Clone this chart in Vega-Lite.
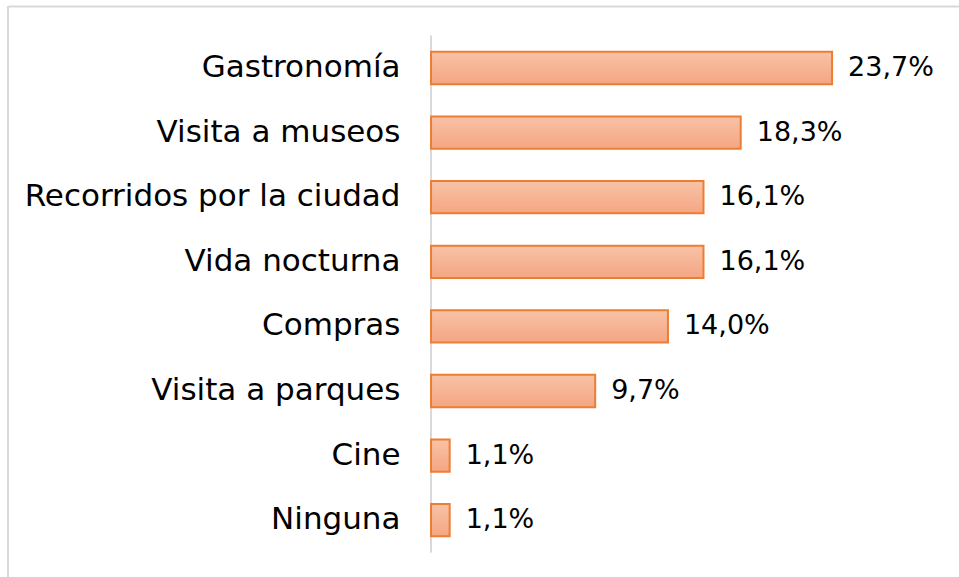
{
  "$schema": "https://vega.github.io/schema/vega-lite/v6.json",
  "width": 951,
  "height": 571,
  "autosize": "none",
  "padding": {"left": 8, "top": 6, "right": 0, "bottom": 0},
  "background": "white",
  "config": {
    "view": {"stroke": null},
    "locale": {"number": {"decimal": ",", "thousands": ".", "grouping": [3], "currency": ["", " €"]}},
    "font": "DejaVu Sans"
  },
  "data": {
    "values": [
      {"categoria": "Gastronomía", "valor": 0.237},
      {"categoria": "Visita a museos", "valor": 0.183},
      {"categoria": "Recorridos por la ciudad", "valor": 0.161},
      {"categoria": "Vida nocturna", "valor": 0.161},
      {"categoria": "Compras", "valor": 0.140},
      {"categoria": "Visita a parques", "valor": 0.097},
      {"categoria": "Cine", "valor": 0.011},
      {"categoria": "Ninguna", "valor": 0.011}
    ]
  },
  "encoding": {
    "y": {
      "field": "categoria",
      "type": "nominal",
      "sort": null,
      "scale": {"paddingInner": 0.5, "paddingOuter": 0.67, "align": 0.53},
      "axis": {
        "orient": "left",
        "offset": -423,
        "labelPadding": 31,
        "domain": false,
        "ticks": false,
        "grid": false,
        "title": null,
        "labelFont": "DejaVu Sans",
        "labelFontSize": 31,
        "labelColor": "#000000",
        "labelLimit": 600
      }
    },
    "x": {
      "field": "valor",
      "type": "quantitative",
      "scale": {"domain": [-0.25, 0.312], "nice": false, "zero": false},
      "axis": {
        "orient": "top",
        "labels": false,
        "ticks": false,
        "grid": false,
        "title": null,
        "domain": true,
        "domainColor": "#d9d9d9",
        "domainWidth": 2
      }
    }
  },
  "layer": [
    {
      "mark": {"type": "rule", "color": "#d9d9d9", "strokeWidth": 2},
      "encoding": {"x": {"datum": -0.25}, "y": null}
    },
    {
      "mark": {"type": "tick", "color": "#d9d9d9", "thickness": 2, "size": 65, "opacity": 1},
      "encoding": {"x": {"datum": 0}}
    },
    {
      "mark": {
        "type": "bar",
        "stroke": "#ed7d31",
        "strokeWidth": 2,
        "fill": {
          "gradient": "linear",
          "x1": 0, "y1": 0, "x2": 0, "y2": 1,
          "stops": [
            {"offset": 0, "color": "#f8c2a7"},
            {"offset": 1, "color": "#f4a682"}
          ]
        }
      },
      "encoding": {"x2": {"datum": 0}}
    },
    {
      "mark": {"type": "text", "align": "left", "baseline": "middle", "dx": 16, "fontSize": 27, "font": "DejaVu Sans", "color": "#000000"},
      "encoding": {"text": {"field": "valor", "type": "quantitative", "format": ".1%"}}
    }
  ]
}
